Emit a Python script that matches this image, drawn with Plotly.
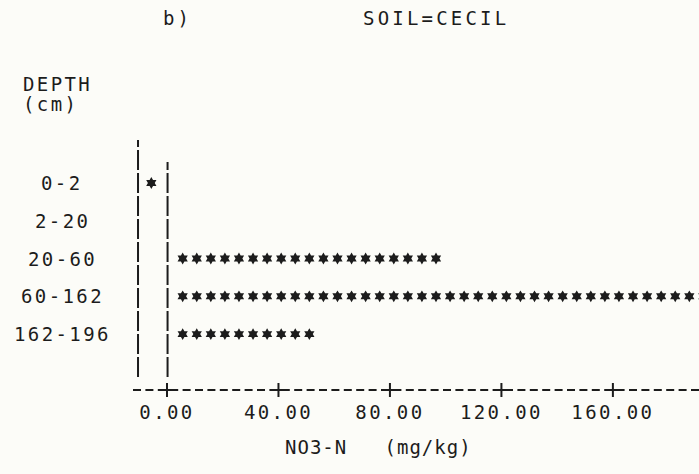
import plotly.graph_objects as go

# ---- data -------------------------------------------------------------
categories = ["0-2", "2-20", "20-60", "60-162", "162-196"]
no3_values = [-5.0, 0.0, 97.0, 198.0, 51.0]          # NO3-N (mg/kg)
tick_values = [0, 40, 80, 120, 160]
tick_labels = ["0.00", "40.00", "80.00", "120.00", "160.00"]

# ---- style / layout constants ----------------------------------------
W, H = 699, 474
L, R, T, B = 133, 0, 140, 84
PW, PH = W - L - R, H - T - B
FONT = "DejaVu Sans Mono"
INK = "#1c1c1c"
PAPER = "#fcfcf8"
UNITS_PER_STAR = 5.05
STAR_OFFSET = 3.1
X_RANGE = [-12.2, 190.9]
Y_RANGE = [5.48, -1.139]


def pxx(p):
    return (p - L) / PW


def pxy(p):
    return (H - B - p) / PH


def spaced(s, ls=2.4):
    return f'<span style="letter-spacing:{ls}px">{s}</span>'


# stars built from the values
xs, ys = [], []
for cat, v in zip(categories, no3_values):
    n = int(round(abs(v) / UNITS_PER_STAR))
    sign = 1 if v >= 0 else -1
    for k in range(n):
        xs.append(sign * (STAR_OFFSET + (k + 0.5) * UNITS_PER_STAR))
        ys.append(cat)

fig = go.Figure()
fig.add_trace(go.Scatter(
    x=xs, y=ys, mode="markers",
    marker=dict(symbol="hexagram", size=9, color=INK, line=dict(width=0)),
    hoverinfo="skip", showlegend=False,
))
# "+" tick crosses on the axis line
fig.add_trace(go.Scatter(
    x=tick_values, y=[0] * len(tick_values), yaxis="y2", mode="markers",
    marker=dict(symbol="cross-thin", size=10, line=dict(width=2, color=INK)),
    cliponaxis=False, hoverinfo="skip", showlegend=False,
))

shapes = [
    # dashed axis line (ASCII "-----")
    dict(type="line", xref="paper", yref="paper", x0=0, x1=1, y0=0, y1=0,
         line=dict(color=INK, width=2, dash="8px,4.4px")),
    # left frame "|"
    dict(type="line", xref="x", yref="paper", x0=-10.4, x1=-10.4,
         y0=pxy(377), y1=pxy(140),
         line=dict(color=INK, width=2, dash="20px,3px")),
    # zero "|"
    dict(type="line", xref="x", yref="paper", x0=0.2, x1=0.2,
         y0=pxy(377), y1=pxy(162),
         line=dict(color=INK, width=2, dash="20px,3px")),
]

annotations = [
    dict(text=spaced("b)", 3), x=pxx(177), y=pxy(18)),
    dict(text=spaced("SOIL=CECIL", 3.2), x=pxx(436), y=pxy(18)),
    dict(text=spaced("DEPTH"), x=pxx(21), y=pxy(84), xanchor="left"),
    dict(text=spaced("(cm)"), x=pxx(21), y=pxy(104), xanchor="left"),
    dict(text=spaced("NO3-N\u00a0\u00a0\u00a0(mg/kg)", 1.0), x=pxx(378), y=pxy(447)),
]
for cat in categories:
    annotations.append(dict(text=spaced(cat), x=pxx(62), y=cat, yref="y"))

for a in annotations:
    a.setdefault("xref", "paper")
    a.setdefault("yref", "paper")
    a.setdefault("xanchor", "center")
    a["yanchor"] = "middle"
    a["showarrow"] = False
    a["font"] = dict(family=FONT, size=19, color=INK)

fig.update_layout(
    width=W, height=H,
    margin=dict(l=L, r=R, t=T, b=B, pad=0),
    paper_bgcolor=PAPER, plot_bgcolor=PAPER,
    xaxis=dict(range=X_RANGE, tickvals=tick_values,
               ticktext=[spaced(t) for t in tick_labels],
               showgrid=False, zeroline=False, showline=False, ticks="",
               ticklabelstandoff=9,
               tickfont=dict(family=FONT, size=19, color=INK)),
    yaxis=dict(type="category", categoryarray=categories, range=Y_RANGE,
               showgrid=False, zeroline=False, showline=False,
               showticklabels=False, ticks=""),
    yaxis2=dict(overlaying="y", range=[0, 1], visible=False),
    shapes=shapes, annotations=annotations,
)

fig.write_html("out.html")
